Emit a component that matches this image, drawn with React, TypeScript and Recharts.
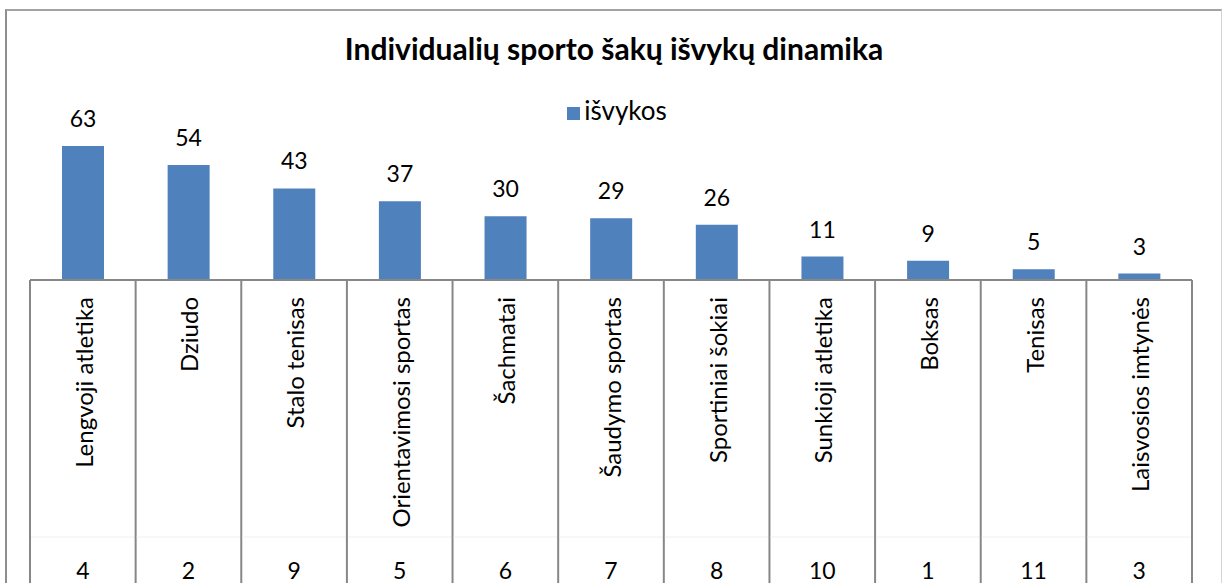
import React from 'react';
import { BarChart, Bar, XAxis, YAxis, Legend, LabelList } from 'recharts';

const sports = [
  'Lengvoji atletika',
  'Dziudo',
  'Stalo tenisas',
  'Orientavimosi sportas',
  'Šachmatai',
  'Šaudymo sportas',
  'Sportiniai šokiai',
  'Sunkioji atletika',
  'Boksas',
  'Tenisas',
  'Laisvosios imtynės',
];
const trips = [63, 54, 43, 37, 30, 29, 26, 11, 9, 5, 3];
const tableRow = [4, 2, 9, 5, 6, 7, 8, 10, 1, 11, 3];

const data = sports.map((sport, i) => ({ sport, trips: trips[i], row: tableRow[i] }));

const W = 1222;
const H = 583;
const M = { top: 131, right: 30, left: 30, bottom: 0 };
const BAND = (W - M.left - M.right) / sports.length;
const FONT = 'Lato, "Open Sans", sans-serif';
const GRID = '#878787';

// category label + data table cell drawn as one tick
const TableTick = (props: any) => {
  const { x, y, payload, index } = props;
  const left = x - BAND / 2;
  const right = x + BAND / 2;
  const isLast = index === sports.length - 1;
  return (
    <g>
      <line x1={left} y1={y} x2={left} y2={H} stroke={GRID} strokeWidth={2} />
      {isLast && <line x1={right} y1={y} x2={right} y2={H} stroke={GRID} strokeWidth={2} />}
      <line x1={left + 1} y1={y + 257} x2={right - 1} y2={y + 257} stroke="#f0f0f0" strokeWidth={1} />
      <text
        x={x + 10}
        y={y + 17}
        transform={`rotate(-90, ${x + 10}, ${y + 17})`}
        textAnchor="end"
        fontFamily={FONT}
        fontSize={24}
        fill="#000"
      >
        {payload.value}
      </text>
      <text x={x} y={y + 299} textAnchor="middle" fontFamily={FONT} fontSize={23} fill="#000">
        {data[index].row}
      </text>
    </g>
  );
};

export default function App() {
  return (
    <div
      style={{
        position: 'absolute',
        left: 0,
        top: 0,
        width: W,
        height: H,
        overflow: 'hidden',
        background: '#fff',
      }}
    >
      {/* chart frame */}
      <div
        style={{
          position: 'absolute',
          left: 5,
          top: 9,
          width: 1214,
          height: 620,
          borderLeft: '2px solid #8e8e8e',
          borderTop: '2px solid #a3a3a3',
          borderRight: '1px solid #d4d4d4',
        }}
      />
      <div
        style={{
          position: 'absolute',
          left: 0,
          top: 33,
          width: 1228,
          textAlign: 'center',
          fontFamily: FONT,
          fontWeight: 700,
          fontSize: 30,
          lineHeight: '30px',
          color: '#000',
        }}
      >
        Individualių sporto šakų išvykų dinamika
      </div>
      <BarChart width={W} height={H} data={data} margin={M} barCategoryGap="30%">
        <YAxis hide domain={[0, 70]} />
        <XAxis
          dataKey="sport"
          interval={0}
          height={303}
          tickSize={0}
          tickMargin={0}
          tickLine={false}
          axisLine={{ stroke: GRID, strokeWidth: 2 }}
          tick={<TableTick />}
        />
        <Legend
          layout="horizontal"
          align="center"
          verticalAlign="middle"
          iconType="square"
          iconSize={13}
          wrapperStyle={{ top: 94, left: 11, width: W, fontFamily: FONT, fontSize: 26 }}
          formatter={(v: string) => <span style={{ color: '#000' }}>{v}</span>}
        />
        <Bar dataKey="trips" name="išvykos" fill="#4F81BD" barSize={42} isAnimationActive={false}>
          <LabelList dataKey="trips" position="top" offset={19} fontFamily={FONT} fontSize={23} fill="#000" />
        </Bar>
      </BarChart>
    </div>
  );
}
